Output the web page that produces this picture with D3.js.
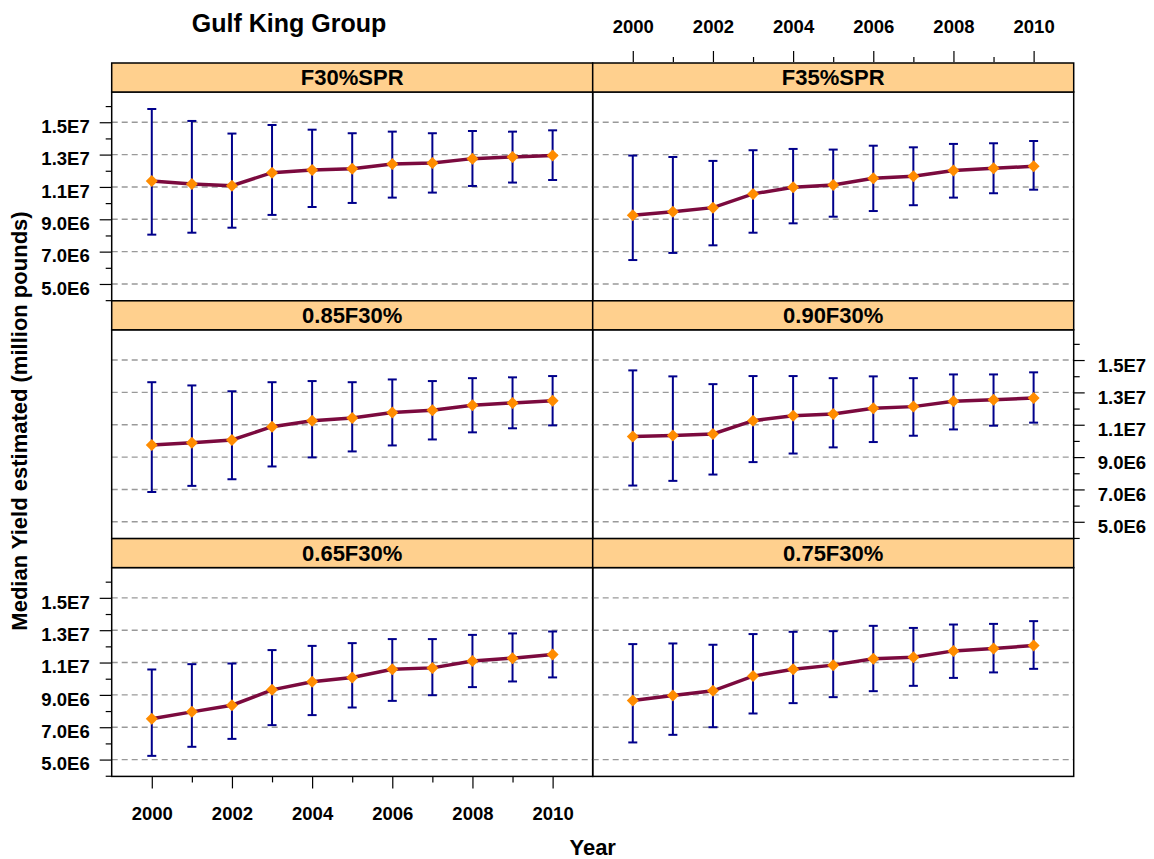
<!DOCTYPE html>
<html>
<head>
<meta charset="utf-8">
<script src="https://cdn.jsdelivr.net/npm/d3@7"></script>
<style>
  body { margin: 0; background: #fff; }
  text { font-family: "Liberation Sans", Arial, sans-serif; font-weight: bold; fill: #000; }
</style>
</head>
<body>
<div id="chart"></div>
<script>
// years on the x axis
const years = [2000, 2001, 2002, 2003, 2004, 2005, 2006, 2007, 2008, 2009, 2010];
// y ticks in million pounds (labels only on the odd ones)
const yTicks = [4, 5, 6, 7, 8, 9, 10, 11, 12, 13, 14, 15, 16];
const yLabelTicks = [5, 7, 9, 11, 13, 15];

const panelNames = ["F30%SPR", "F35%SPR", "0.85F30%", "0.90F30%", "0.65F30%", "0.75F30%"];

// median yield and error bar ends, in million pounds
const medF30  = [11.37, 11.18, 11.08, 11.88, 12.05, 12.13, 12.42, 12.48, 12.75, 12.85, 12.94];
const lowF30  = [8.05, 8.17, 8.48, 9.27, 9.76, 10.01, 10.34, 10.65, 11.06, 11.27, 11.43];
const upF30   = [15.82, 15.08, 14.30, 14.83, 14.54, 14.32, 14.42, 14.32, 14.46, 14.42, 14.50];

const medF35  = [9.25, 9.47, 9.72, 10.57, 10.98, 11.12, 11.54, 11.66, 12.01, 12.15, 12.28];
const lowF35  = [6.48, 6.92, 7.39, 8.17, 8.75, 9.16, 9.51, 9.87, 10.34, 10.61, 10.83];
const upF35   = [12.94, 12.85, 12.61, 13.27, 13.35, 13.31, 13.55, 13.45, 13.66, 13.70, 13.84];

const med085  = [9.74, 9.89, 10.06, 10.88, 11.24, 11.42, 11.75, 11.89, 12.20, 12.35, 12.48];
const low085  = [6.84, 7.22, 7.63, 8.42, 8.98, 9.35, 9.72, 10.09, 10.53, 10.78, 10.96];
const up085   = [13.63, 13.43, 13.07, 13.63, 13.70, 13.63, 13.80, 13.70, 13.88, 13.93, 14.01];

const med090  = [10.28, 10.34, 10.43, 11.25, 11.55, 11.67, 12.02, 12.12, 12.45, 12.54, 12.66];
const low090  = [7.24, 7.53, 7.92, 8.69, 9.22, 9.60, 9.93, 10.32, 10.71, 10.94, 11.13];
const up090   = [14.36, 13.99, 13.51, 14.01, 14.01, 13.88, 13.99, 13.88, 14.11, 14.11, 14.24];

const med065  = [7.52, 7.95, 8.36, 9.31, 9.81, 10.08, 10.59, 10.67, 11.10, 11.27, 11.50];
const low065  = [5.23, 5.79, 6.28, 7.13, 7.75, 8.22, 8.63, 8.98, 9.48, 9.83, 10.08];
const up065   = [10.57, 10.90, 10.94, 11.77, 12.03, 12.20, 12.45, 12.45, 12.71, 12.80, 12.92];

const med075  = [8.65, 8.96, 9.25, 10.16, 10.59, 10.84, 11.23, 11.33, 11.72, 11.87, 12.05];
const low075  = [6.06, 6.53, 7.00, 7.85, 8.49, 8.86, 9.23, 9.56, 10.05, 10.39, 10.61];
const up075   = [12.14, 12.18, 12.10, 12.76, 12.90, 12.94, 13.27, 13.14, 13.35, 13.39, 13.56];

const layout = {
  width: 1154,
  height: 859,
  left: 111.7,
  colW: 481,
  top: 63,
  rowH: 237.8,
  stripH: 29
};
const plotH = layout.rowH - layout.stripH;

const panels = [
  { name: panelNames[0], row: 0, col: 0, med: medF30, low: lowF30, up: upF30 },
  { name: panelNames[1], row: 0, col: 1, med: medF35, low: lowF35, up: upF35 },
  { name: panelNames[2], row: 1, col: 0, med: med085, low: low085, up: up085 },
  { name: panelNames[3], row: 1, col: 1, med: med090, low: low090, up: up090 },
  { name: panelNames[4], row: 2, col: 0, med: med065, low: low065, up: up065 },
  { name: panelNames[5], row: 2, col: 1, med: med075, low: low075, up: up075 }
];

const xScale = d3.scaleLinear().domain([1999, 2011]).range([0, layout.colW]);
const yScale = d3.scaleLinear().domain([3.96, 16.87]).range([plotH, 0]);

const fmtY = v => yLabelTicks.includes(v) ? (v * 1e6).toExponential(1).toUpperCase().replace("E+", "E") : "";
const fmtX = v => v % 2 === 0 ? String(v) : "";

let svg = d3.select("#chart").append("svg")
  .attr("width", layout.width)
  .attr("height", layout.height);

function panelX(p) { return layout.left + p.col * layout.colW; }
function plotY(p) { return layout.top + p.row * layout.rowH + layout.stripH; }

// style a lattice-like axis: long ticks on labelled values, short on others
function styleAxis(g, isMajor, major, minor, dir) {
  g.select(".domain").remove();
  g.selectAll(".tick line")
    .attr("stroke", "#000")
    .attr("stroke-width", 1.2)
    .each(function(d) {
      let len = isMajor(d) ? major : minor;
      let line = d3.select(this);
      if (dir === "left") line.attr("x2", -len);
      if (dir === "right") line.attr("x2", len);
      if (dir === "top") line.attr("y2", -len);
      if (dir === "bottom") line.attr("y2", len);
    });
  g.selectAll(".tick text")
    .attr("font-size", 18.5)
    .attr("font-family", null)
    .attr("fill", "#000");
}

panels.forEach(p => {
  let g = svg.append("g")
    .attr("transform", `translate(${panelX(p)},${plotY(p)})`);

  // dashed grid
  g.selectAll(".grid").data(yLabelTicks).join("line")
    .attr("class", "grid")
    .attr("x1", 0).attr("x2", layout.colW)
    .attr("y1", d => yScale(d)).attr("y2", d => yScale(d))
    .attr("stroke", "#999")
    .attr("stroke-width", 1.4)
    .attr("stroke-dasharray", "6,4");

  let rows = years.map((yr, i) => ({ year: yr, med: p.med[i], low: p.low[i], up: p.up[i] }));

  // error bars
  let bars = g.append("g").attr("stroke", "#00008b").attr("stroke-width", 2);
  bars.selectAll(".bar").data(rows).join("line")
    .attr("x1", d => xScale(d.year)).attr("x2", d => xScale(d.year))
    .attr("y1", d => yScale(d.low)).attr("y2", d => yScale(d.up));
  bars.selectAll(".capU").data(rows).join("line")
    .attr("x1", d => xScale(d.year) - 4.5).attr("x2", d => xScale(d.year) + 4.5)
    .attr("y1", d => yScale(d.up)).attr("y2", d => yScale(d.up));
  bars.selectAll(".capL").data(rows).join("line")
    .attr("x1", d => xScale(d.year) - 4.5).attr("x2", d => xScale(d.year) + 4.5)
    .attr("y1", d => yScale(d.low)).attr("y2", d => yScale(d.low));

  // median line
  g.append("path")
    .datum(rows)
    .attr("fill", "none")
    .attr("stroke", "#7b0a3e")
    .attr("stroke-width", 3.5)
    .attr("d", d3.line().x(d => xScale(d.year)).y(d => yScale(d.med)));

  // diamonds
  g.selectAll(".pt").data(rows).join("path")
    .attr("transform", d => `translate(${xScale(d.year)},${yScale(d.med)})`)
    .attr("d", "M0,-6L6,0L0,6L-6,0Z")
    .attr("fill", "#ff8c00");

  // panel frame
  g.append("rect")
    .attr("x", 0).attr("y", 0)
    .attr("width", layout.colW).attr("height", plotH)
    .attr("fill", "none")
    .attr("stroke", "#000")
    .attr("stroke-width", 1.5);

  // strip
  g.append("rect")
    .attr("x", 0).attr("y", -layout.stripH)
    .attr("width", layout.colW).attr("height", layout.stripH)
    .attr("fill", "#ffd08e")
    .attr("stroke", "#000")
    .attr("stroke-width", 1.5);
  g.append("text")
    .attr("x", layout.colW / 2)
    .attr("y", -layout.stripH / 2)
    .attr("dy", "0.36em")
    .attr("text-anchor", "middle")
    .attr("font-size", 22)
    .text(p.name);

  // axes, alternating like lattice
  let isMajorY = d => yLabelTicks.includes(d);
  let isMajorX = d => d % 2 === 0;
  if (p.col === 0 && p.row !== 1) {
    let ax = g.append("g")
      .call(d3.axisLeft(yScale).tickValues(yTicks).tickFormat(fmtY));
    styleAxis(ax, isMajorY, 12, 6, "left");
    ax.selectAll(".tick text").attr("x", -22).attr("dy", "0.55em");
  }
  if (p.col === 1 && p.row === 1) {
    let ax = g.append("g")
      .attr("transform", `translate(${layout.colW},0)`)
      .call(d3.axisRight(yScale).tickValues(yTicks).tickFormat(fmtY));
    styleAxis(ax, isMajorY, 11, 6, "right");
    ax.selectAll(".tick text").attr("x", 24).attr("dy", "0.6em");
  }
  if (p.col === 1 && p.row === 0) {
    let ax = g.append("g")
      .attr("transform", `translate(0,${-layout.stripH - 1})`)
      .call(d3.axisTop(xScale).tickValues(years).tickFormat(fmtX));
    styleAxis(ax, isMajorX, 11, 5, "top");
    ax.selectAll(".tick text").attr("y", -29).attr("dy", "0em");
  }
  if (p.col === 0 && p.row === 2) {
    let ax = g.append("g")
      .attr("transform", `translate(0,${plotH})`)
      .call(d3.axisBottom(xScale).tickValues(years).tickFormat(fmtX));
    styleAxis(ax, isMajorX, 12, 6, "bottom");
    ax.selectAll(".tick text").attr("y", 44).attr("dy", "0em");
  }
});

// titles
svg.append("text")
  .attr("x", 289).attr("y", 32)
  .attr("text-anchor", "middle")
  .attr("font-size", 25)
  .text("Gulf King Group");

svg.append("text")
  .attr("x", layout.left + layout.colW).attr("y", 855)
  .attr("text-anchor", "middle")
  .attr("font-size", 22)
  .text("Year");

svg.append("text")
  .attr("transform", "translate(27,421) rotate(-90)")
  .attr("text-anchor", "middle")
  .attr("font-size", 22)
  .text("Median Yield estimated (million pounds)");
</script>
</body>
</html>
